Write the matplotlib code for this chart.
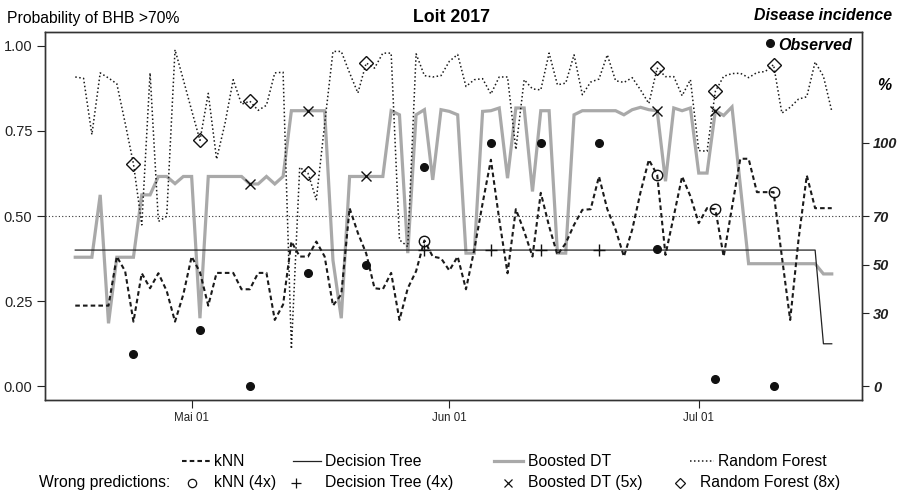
import numpy as np
import pandas as pd
import matplotlib
matplotlib.use("Agg")
import matplotlib.pyplot as plt
from matplotlib.lines import Line2D

plt.rcParams["font.family"] = ["Liberation Sans", "DejaVu Sans"]

# Daily predicted probability of BHB incidence > 70 %, 17 Apr - 17 Jul 2017
knn = [0.237, 0.237, 0.237, 0.237, 0.237, 0.381, 0.338, 0.190, 0.332, 0.288,
       0.332, 0.280, 0.190, 0.270, 0.381, 0.335, 0.237, 0.333, 0.333, 0.333,
       0.285, 0.285, 0.333, 0.333, 0.195, 0.240, 0.425, 0.381, 0.381, 0.425,
       0.381, 0.237, 0.270, 0.523, 0.450, 0.390, 0.288, 0.285, 0.333, 0.195,
       0.288, 0.338, 0.428, 0.381, 0.376, 0.340, 0.381, 0.285, 0.401, 0.537,
       0.665, 0.490, 0.332, 0.520, 0.455, 0.381, 0.568, 0.470, 0.386, 0.420,
       0.474, 0.518, 0.520, 0.616, 0.520, 0.460, 0.381, 0.460, 0.570, 0.665,
       0.621, 0.386, 0.500, 0.616, 0.558, 0.479, 0.523, 0.520, 0.381, 0.525,
       0.668, 0.668, 0.570, 0.570, 0.570, 0.381, 0.195, 0.430, 0.619, 0.523,
       0.523, 0.523]

decision_tree = [0.40] * 90 + [0.125, 0.125]

boosted_dt = [0.379, 0.379, 0.379, 0.562, 0.185, 0.379, 0.379, 0.379, 0.562, 0.562,
              0.616, 0.616, 0.595, 0.616, 0.616, 0.200, 0.616, 0.616, 0.616, 0.616,
              0.616, 0.594, 0.594, 0.616, 0.594, 0.616, 0.809, 0.809, 0.809, 0.809,
              0.809, 0.370, 0.200, 0.616, 0.616, 0.616, 0.616, 0.616, 0.809, 0.797,
              0.391, 0.797, 0.812, 0.606, 0.812, 0.807, 0.797, 0.391, 0.391, 0.807,
              0.809, 0.817, 0.611, 0.817, 0.817, 0.572, 0.809, 0.809, 0.391, 0.391,
              0.797, 0.809, 0.809, 0.809, 0.809, 0.809, 0.797, 0.812, 0.819, 0.812,
              0.809, 0.602, 0.817, 0.809, 0.817, 0.626, 0.626, 0.809, 0.795, 0.820,
              0.590, 0.360, 0.360, 0.360, 0.360, 0.360, 0.360, 0.360, 0.360, 0.360,
              0.330, 0.330]

random_forest = [0.908, 0.904, 0.739, 0.920, 0.905, 0.888, 0.773, 0.653, 0.474, 0.920,
                 0.484, 0.499, 0.988, 0.900, 0.810, 0.722, 0.860, 0.667, 0.770, 0.900,
                 0.828, 0.837, 0.810, 0.825, 0.920, 0.922, 0.110, 0.643, 0.625, 0.548,
                 0.770, 0.983, 0.983, 0.920, 0.861, 0.949, 0.934, 0.978, 0.978, 0.430,
                 0.410, 0.976, 0.912, 0.908, 0.912, 0.954, 0.974, 0.880, 0.900, 0.903,
                 0.858, 0.908, 0.908, 0.695, 0.900, 0.873, 0.870, 0.978, 0.885, 0.890,
                 0.973, 0.856, 0.893, 0.902, 0.973, 0.897, 0.892, 0.906, 0.870, 0.830,
                 0.934, 0.909, 0.909, 0.853, 0.900, 0.692, 0.690, 0.866, 0.910, 0.918,
                 0.919, 0.906, 0.921, 0.924, 0.944, 0.802, 0.819, 0.843, 0.850, 0.952,
                 0.910, 0.808]

# Weekly field observations of disease incidence (%)
obs_dates = ["2017-04-24", "2017-05-02", "2017-05-08", "2017-05-15", "2017-05-22",
             "2017-05-29", "2017-06-06", "2017-06-12", "2017-06-19", "2017-06-26",
             "2017-07-03", "2017-07-10"]
obs_incidence = [13.2, 23.2, 0.0, 46.5, 50.0, 90.0, 100.0, 100.0, 100.0, 56.5, 3.2, 0.0]

month_ticks = ["2017-05-01", "2017-06-01", "2017-07-01"]
month_labels = ["Mai 01", "Jun 01", "Jul 01"]
prob_ticks = [0.0, 0.25, 0.5, 0.75, 1.0]
prob_labels = ["0.00", "0.25", "0.50", "0.75", "1.00"]
inc_ticks = [0, 30, 50, 70, 100]

THRESH_P = 0.5
THRESH_INC = 70.0
INC_SCALE = 140.0   # incidence axis: 70 % sits at probability 0.5

dates = pd.date_range("2017-04-17", periods=len(knn), freq="D")
obs_d = pd.to_datetime(obs_dates)
obs_inc = np.array(obs_incidence)

W, H = 903, 499
fig = plt.figure(figsize=(W / 100, H / 100), dpi=100)
ax = fig.add_axes([45 / W, 99 / H, 817 / W, 368 / H])

KNN_STYLE = dict(color="#1a1a1a", lw=1.5, ls=(0, (2.2, 1.5)))
DT_STYLE = dict(color="#222222", lw=0.9)
BDT_STYLE = dict(color="#a9a9a9", lw=2.3)
RF_STYLE = dict(color="#1a1a1a", lw=1.1, ls=(0, (1, 1.6)))

# models
ax.plot(dates, boosted_dt, solid_joinstyle="miter", zorder=2, **BDT_STYLE)
ax.plot(dates, decision_tree, zorder=3, **DT_STYLE)
ax.plot(dates, knn, zorder=4, **KNN_STYLE)
ax.plot(dates, random_forest, zorder=4, **RF_STYLE)
ax.axhline(THRESH_P, color="#333333", lw=0.8, ls=(0, (1, 2)), zorder=1)

# wrong predictions on observation days
series = pd.DataFrame({"knn": knn, "dt": decision_tree, "bdt": boosted_dt,
                       "rf": random_forest}, index=dates)
obs_high = obs_inc > THRESH_INC
marker_style = {"knn": dict(marker="o", ms=7.5, mfc="none"),
                "dt": dict(marker="+", ms=9),
                "bdt": dict(marker="x", ms=7),
                "rf": dict(marker="D", ms=7, mfc="none")}
wrong_counts = {}
for key, style in marker_style.items():
    vals = series.loc[obs_d, key].to_numpy()
    wrong = (vals > THRESH_P) != obs_high
    wrong_counts[key] = int(wrong.sum())
    ax.plot(obs_d[wrong], vals[wrong], ls="none", color="#111111", mec="#111111",
            mew=1.0, zorder=6, **style)

ylim = (-0.04, 1.04)
span = dates[-1] - dates[0]
ax.set_xlim(dates[0] - 0.04 * span, dates[-1] + 0.04 * span)
ax.set_ylim(*ylim)
ax.set_xticks(pd.to_datetime(month_ticks))
ax.set_xticklabels(month_labels, fontsize=8.3)
ax.set_yticks(prob_ticks)
ax.set_yticklabels(prob_labels, fontsize=10.5)
ax.tick_params(axis="x", length=6, width=0.8, pad=2.5, colors="#222222")
ax.tick_params(axis="y", length=6, width=0.8, pad=3, colors="#222222")
for sp in ax.spines.values():
    sp.set_linewidth(1.0)
    sp.set_color("#333333")

# incidence axis
ax2 = ax.twinx()
ax2.set_ylim(ylim[0] * INC_SCALE, ylim[1] * INC_SCALE)
ax2.plot(obs_d, obs_inc, ls="none", marker="o", ms=5.5, color="#111111", zorder=7)
ax2.set_yticks(inc_ticks)
ax2.set_yticklabels([str(t) for t in inc_ticks], fontsize=10.5,
                    fontweight="bold", fontstyle="italic")
ax2.tick_params(axis="y", length=5, width=0.8, pad=3, colors="#222222")
for sp in ax2.spines.values():
    sp.set_linewidth(1.0)
    sp.set_color("#333333")

# observed key inside the plot
ax2.plot([0.887], [0.969], transform=ax.transAxes, marker="o", ms=5.5,
         color="#111111", clip_on=False)
fig.text(778 / W, 1 - 45 / H, "Observed", fontsize=11.5, fontweight="bold",
         fontstyle="italic", va="center", ha="left")

# headings
fig.text(7 / W, 1 - 18 / H, "Probability of BHB >70%", fontsize=11.3,
         va="center", ha="left")
fig.text(0.5, 1 - 17 / H, "Loit 2017", fontsize=12.8, fontweight="bold",
         va="center", ha="center")
fig.text(892 / W, 1 - 16 / H, "Disease incidence", fontsize=11.4,
         fontweight="bold", fontstyle="italic", va="center", ha="right")
fig.text(884 / W, 1 - 85 / H, "%", fontsize=11.4, fontweight="bold",
         fontstyle="italic", va="center", ha="center")

# legend drawn in pixel coordinates below the plot
lg = fig.add_axes([0, 0, 1, 1], facecolor="none")
lg.set_xlim(0, W)
lg.set_ylim(H, 0)
lg.axis("off")
r1, r2 = 461, 483
fs = 11.3
lg.add_line(Line2D([182, 210], [r1, r1], **KNN_STYLE))
lg.text(214, r1, "kNN", fontsize=fs, va="center")
lg.add_line(Line2D([293, 321], [r1, r1], **DT_STYLE))
lg.text(325, r1, "Decision Tree", fontsize=fs, va="center")
lg.add_line(Line2D([494, 523], [r1, r1], **BDT_STYLE))
lg.text(528, r1, "Boosted DT", fontsize=fs, va="center")
lg.add_line(Line2D([690, 714], [r1, r1], **RF_STYLE))
lg.text(718, r1, "Random Forest", fontsize=fs, va="center")

lg.text(39, r2, "Wrong predictions:", fontsize=fs, va="center")
legend_rows = [("knn", 192, 214, "kNN"), ("dt", 296, 325, "Decision Tree"),
               ("bdt", 508, 528, "Boosted DT"), ("rf", 680, 700, "Random Forest")]
for key, mx, tx, name in legend_rows:
    st = dict(marker_style[key])
    st["ms"] = st["ms"] * 0.8
    lg.add_line(Line2D([mx], [r2], ls="none", color="#111111", mec="#111111",
                       mew=0.9, **st))
    lg.text(tx, r2, f"{name} ({wrong_counts[key]}x)", fontsize=fs, va="center")

fig.savefig("out.png", dpi=100)
